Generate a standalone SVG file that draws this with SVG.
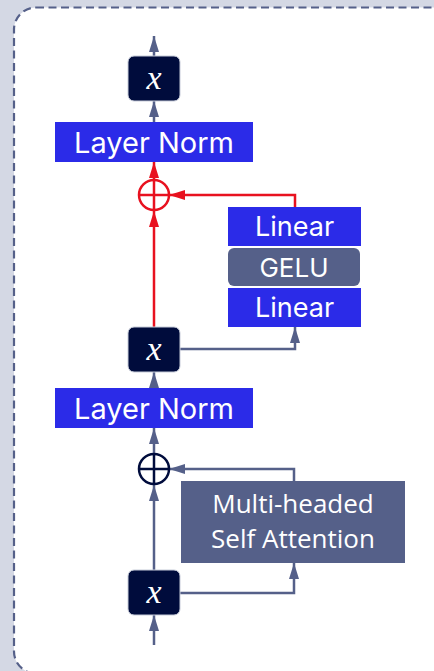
<svg xmlns="http://www.w3.org/2000/svg" width="434" height="671" viewBox="0 0 434 671">
  <defs>
    <marker id="ah-gray" viewBox="0 0 16 10" refX="16" refY="5" markerWidth="16" markerHeight="10" markerUnits="userSpaceOnUse" orient="auto">
      <path d="M0,0 L16,5 L0,10 Z" fill="#556089"/>
    </marker>
    <marker id="ah-red" viewBox="0 0 16 10" refX="16" refY="5" markerWidth="16" markerHeight="10" markerUnits="userSpaceOnUse" orient="auto">
      <path d="M0,0 L16,5 L0,10 Z" fill="#e8111f"/>
    </marker>
    <style>
      .norm { fill: #2b2be8; }
      .lin { fill: #2b2be8; }
      .gelu { fill: #556089; }
      .attn { fill: #556089; }
      .xbox { fill: #000c3c; stroke: #c7ccd9; stroke-width: 1; }
      .lbl { font-family: Inter, "Noto Sans", sans-serif; fill: #ffffff; text-anchor: middle; }
      .lbl2 { font-family: "Open Sans", "Noto Sans", sans-serif; fill: #ffffff; text-anchor: middle; }
      .var { font-family: "Liberation Serif", serif; font-style: italic; fill: #ffffff; text-anchor: middle; font-size: 34px; }
      .cg { fill: none; stroke: #556089; stroke-width: 2.5; }
      .cr { fill: none; stroke: #e8111f; stroke-width: 2.5; }
    </style>
  </defs>

  <!-- page backdrop and dashed frame -->
  <rect x="0" y="0" width="434" height="671" fill="#d4d8e4"/>
  <rect x="14" y="7.5" width="460" height="666" rx="22" fill="#ffffff" stroke="#556089" stroke-width="2.2" stroke-dasharray="8 4.5"/>

  <!-- connectors -->
  <g id="connectors">
    <!-- lower residual branch -->
    <line class="cg" x1="154" y1="645" x2="154" y2="615" marker-end="url(#ah-gray)"/>
    <line class="cg" x1="154" y1="570" x2="154" y2="485" marker-end="url(#ah-gray)"/>
    <polyline class="cg" points="180,593 294,593 294,563" marker-end="url(#ah-gray)"/>
    <polyline class="cg" points="294,481 294,469 169,469" marker-end="url(#ah-gray)"/>
    <line class="cg" x1="154" y1="454" x2="154" y2="428" marker-end="url(#ah-gray)"/>
    <line class="cg" x1="154" y1="388" x2="154" y2="372" marker-end="url(#ah-gray)"/>
    <!-- upper residual branch -->
    <polyline class="cg" points="180,349 295,349 295,327" marker-end="url(#ah-gray)"/>
    <line class="cr" x1="154" y1="327" x2="154" y2="211" marker-end="url(#ah-red)"/>
    <polyline class="cr" points="295,207 295,195 169,195" marker-end="url(#ah-red)"/>
    <line class="cr" x1="154" y1="180" x2="154" y2="162" marker-end="url(#ah-red)"/>
    <line class="cg" x1="154" y1="122" x2="154" y2="101" marker-end="url(#ah-gray)"/>
    <line class="cg" x1="154" y1="56" x2="154" y2="36" marker-end="url(#ah-gray)"/>
  </g>

  <!-- nodes -->
  <g id="x-in">
    <rect class="xbox" x="128" y="570" width="52" height="45" rx="6"/>
    <text class="var" x="154" y="603">x</text>
  </g>

  <g id="attention">
    <rect class="attn" x="181" y="481" width="224" height="82"/>
    <text class="lbl2" x="293" y="513" font-size="26">Multi-headed</text>
    <text class="lbl2" x="293" y="548" font-size="26">Self Attention</text>
  </g>

  <g id="add-1">
    <circle cx="154" cy="469" r="15" fill="#ffffff" stroke="#000c3c" stroke-width="2.5"/>
    <line x1="139" y1="469" x2="169" y2="469" stroke="#000c3c" stroke-width="2.5"/>
    <line x1="154" y1="454" x2="154" y2="484" stroke="#000c3c" stroke-width="2.5"/>
  </g>

  <g id="norm-1">
    <rect class="norm" x="55" y="388" width="198" height="40"/>
    <text class="lbl" x="154" y="419" font-size="29">Layer Norm</text>
  </g>

  <g id="x-mid">
    <rect class="xbox" x="128" y="327" width="52" height="45" rx="6"/>
    <text class="var" x="154" y="360">x</text>
  </g>

  <g id="linear-1">
    <rect class="lin" x="228" y="288" width="133" height="39"/>
    <text class="lbl" x="294.5" y="317" font-size="27">Linear</text>
  </g>

  <g id="gelu">
    <rect class="gelu" x="228" y="248" width="132" height="38" rx="6"/>
    <text class="lbl" x="294" y="277" font-size="26">GELU</text>
  </g>

  <g id="linear-2">
    <rect class="lin" x="228" y="207" width="133" height="39"/>
    <text class="lbl" x="294.5" y="236" font-size="27">Linear</text>
  </g>

  <g id="add-2">
    <circle cx="154" cy="195" r="15" fill="#ffffff" stroke="#e8111f" stroke-width="2.5"/>
    <line x1="139" y1="195" x2="169" y2="195" stroke="#e8111f" stroke-width="2.5"/>
    <line x1="154" y1="180" x2="154" y2="210" stroke="#e8111f" stroke-width="2.5"/>
  </g>

  <g id="norm-2">
    <rect class="norm" x="55" y="122" width="198" height="40"/>
    <text class="lbl" x="154" y="153" font-size="29">Layer Norm</text>
  </g>

  <g id="x-out">
    <rect class="xbox" x="128" y="56" width="52" height="45" rx="6"/>
    <text class="var" x="154" y="89">x</text>
  </g>
</svg>
